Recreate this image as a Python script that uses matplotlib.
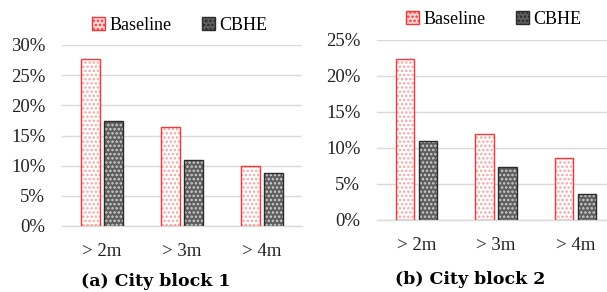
import numpy as np
import matplotlib.pyplot as plt
from matplotlib.patches import Patch
from matplotlib.ticker import PercentFormatter

# ── DATA ──
categories = ['> 2m', '> 3m', '> 4m']
block1_baseline = [27.7, 16.4, 9.9]
block1_cbhe = [17.4, 10.9, 8.8]
block2_baseline = [22.4, 12.0, 8.6]
block2_cbhe = [11.0, 7.3, 3.6]
titles = ['(a) City block 1', '(b) City block 2']

plt.rcParams['font.family'] = ['Liberation Serif', 'DejaVu Serif']
plt.rcParams['hatch.linewidth'] = 1.2

RED = '#ff3333'
PINK = '#f6a3a3'
GRAY = '#5e5e5e'
DARK = '#2a2a2a'

fig = plt.figure(figsize=(6.07, 2.92), dpi=100)
W, H = 607, 292


def hatched_bars(ax, x, vals, face, dots, edge):
    ax.bar(x, vals, width=0.23, color=face, edgecolor=dots, hatch='....',
           linewidth=0, zorder=2)
    ax.bar(x, vals, width=0.23, fill=False, edgecolor=edge, linewidth=1.0,
           zorder=3)


def panel(rect, base, cbhe, ymax, title, title_x, title_y, leg_x, leg_y):
    l, b, r, t = rect
    ax = fig.add_axes([l / W, 1 - b / H, (r - l) / W, (b - t) / H])
    x = np.arange(len(categories))
    hatched_bars(ax, x - 0.145, base, 'white', PINK, RED)
    hatched_bars(ax, x + 0.145, cbhe, GRAY, '#cfcfcf', DARK)
    ax.set_xlim(-0.5, 2.5)
    ax.set_ylim(0, ymax)
    ax.set_yticks(np.arange(0, ymax + 0.1, 5))
    ax.yaxis.set_major_formatter(PercentFormatter(decimals=0))
    ax.set_xticks(x)
    ax.set_xticklabels(categories)
    ax.tick_params(axis='both', length=0, labelsize=13.5, colors='#222222')
    ax.tick_params(axis='x', pad=12)
    ax.tick_params(axis='y', pad=12)
    ax.grid(axis='y', color='#d9d9d9', linewidth=1.0, zorder=0)
    ax.set_axisbelow(True)
    for s in ['top', 'right', 'left']:
        ax.spines[s].set_visible(False)
    ax.spines['bottom'].set_color('#d9d9d9')
    ax.spines['bottom'].set_linewidth(1.0)

    handles = [Patch(facecolor='#fbdada', edgecolor=RED, hatch='....', label='Baseline'),
               Patch(facecolor=GRAY, edgecolor=DARK, hatch='....', label='CBHE')]
    fig.legend(handles=handles, loc='center', ncol=2, frameon=False,
               bbox_to_anchor=(leg_x / W, 1 - leg_y / H), fontsize=13,
               handlelength=0.7, handleheight=0.7, handletextpad=0.25,
               columnspacing=1.7)
    fig.text(title_x / W, 1 - title_y / H, title, ha='center', va='center',
             fontsize=12.5, fontweight='bold', family='DejaVu Serif')


panel((62, 226, 302, 45), block1_baseline, block1_cbhe, 30, titles[0], 156, 281, 180, 25.5)
panel((377, 220, 615, 40), block2_baseline, block2_cbhe, 25, titles[1], 470, 280, 494, 19.5)

plt.savefig('out.png', dpi=100)
